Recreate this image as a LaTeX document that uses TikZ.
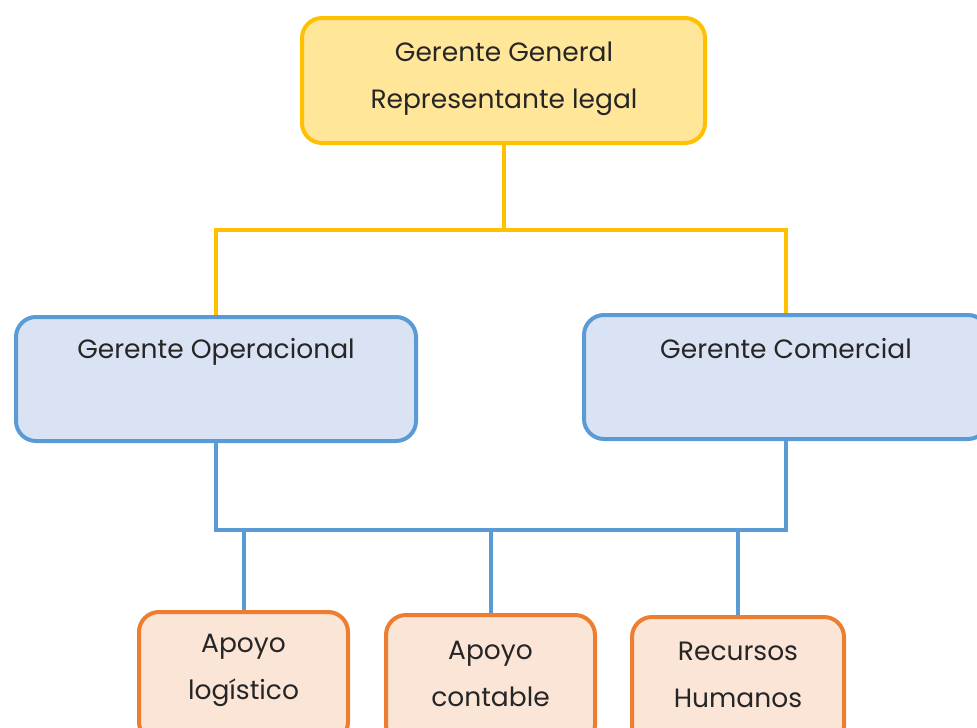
\documentclass[tikz,border=0pt]{standalone}
\usepackage{fontspec}
\setmainfont{Poppins}
\definecolor{yfill}{HTML}{FFE699}
\definecolor{ydraw}{HTML}{FFC000}
\definecolor{bfill}{HTML}{DAE3F3}
\definecolor{bdraw}{HTML}{5B9BD5}
\definecolor{ofill}{HTML}{FBE5D6}
\definecolor{odraw}{HTML}{ED7D31}
\definecolor{txt}{HTML}{262626}
\begin{document}
\begin{tikzpicture}[x=1pt,y=1pt,
  boxbase/.style={rectangle,rounded corners=20pt,line width=4pt,inner sep=0pt},
  ybox/.style={boxbase,draw=ydraw,fill=yfill},
  bbox/.style={boxbase,draw=bdraw,fill=bfill},
  obox/.style={boxbase,draw=odraw,fill=ofill},
  lbl/.style={text=txt,font=\fontsize{26.5}{47}\selectfont,align=center},
  yline/.style={draw=ydraw,line width=4pt},
  bline/.style={draw=bdraw,line width=4pt}]
\useasboundingbox (0,0) rectangle (977,-728);
\clip (0,0) rectangle (977,-728);
% top
\node[ybox,minimum width=403pt,minimum height=125pt] (gg) at (503.5,-80.5) {};
\node[lbl] (ggt) at (504,-79) {Gerente General\\Representante legal};
% middle
\node[bbox,minimum width=400pt,minimum height=124pt] (op) at (216,-379) {};
\node[bbox,minimum width=404pt,minimum height=124pt] (com) at (786,-377) {};
\node[lbl] (opt) at (216,-352) {Gerente Operacional};
\node[lbl] (comt) at (786,-349) {Gerente Comercial};
% bottom
\node[obox,minimum width=209pt,minimum height=130pt] (al) at (243.5,-677) {};
\node[obox,minimum width=209pt,minimum height=130pt] (ac) at (490.5,-680) {};
\node[obox,minimum width=212pt,minimum height=130pt] (rh) at (738,-682) {};
\node[lbl] (alt) at (243.5,-670) {Apoyo\\log\'istico};
\node[lbl] (act) at (490.5,-674) {Apoyo\\contable};
\node[lbl] (rht) at (738,-675) {Recursos\\Humanos};
% connectors
\coordinate (ybus) at (503.5,-230);
\coordinate (bbus) at (503.5,-530);
\draw[yline] (gg.south) -- (gg.south |- ybus);
\draw[yline] (op.north) -- (op.north |- ybus) -- (com.north |- ybus) -- (com.north);
\draw[bline] (op.south) -- (op.south |- bbus) -- (com.south |- bbus) -- (com.south);
\draw[bline] (al.north) -- (al.north |- bbus);
\draw[bline] (ac.north) -- (ac.north |- bbus);
\draw[bline] (rh.north) -- (rh.north |- bbus);
\end{tikzpicture}
\end{document}
